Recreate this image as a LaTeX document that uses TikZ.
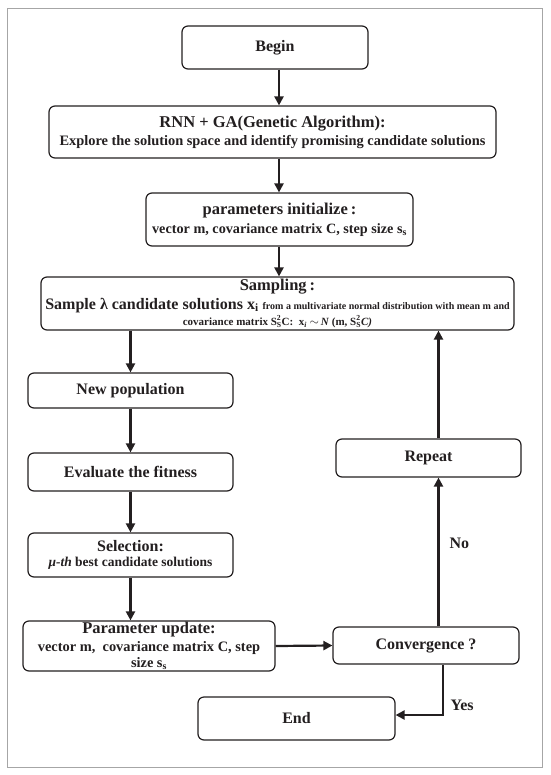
\documentclass[tikz,border=0pt]{standalone}
\usepackage{fontspec}
\setmainfont{Liberation Serif}
\usetikzlibrary{arrows.meta,calc}
\definecolor{ink}{HTML}{231F20}
\newcommand{\fs}[1]{\fontsize{#1}{#1}\selectfont}
\newcommand{\SStwo}{S\rlap{\raisebox{1.5pt}{\textsuperscript{2}}}\textsubscript{S}}
\begin{document}
\begin{tikzpicture}[x=1pt,y=-1pt,
  box/.style={draw=ink,line width=1.2pt,rounded corners=6pt,fill=white,inner sep=1pt,align=center,font=\bfseries,text=ink},
  arr/.style={draw=ink,line width=2.2pt,-{Triangle[length=9pt,width=9pt]}},
  lbl/.style={font=\bfseries\fs{16},text=ink}]
\useasboundingbox (0,0) rectangle (550,775);
\draw[draw=black!35,line width=1pt] (7,9) rectangle (542,767);
\node[box,minimum width=186pt,minimum height=43pt] (begin) at (275,47.5) {\fs{16}Begin};
\node[box,minimum width=447pt,minimum height=52pt] (rnn) at (272.5,132)
  {\fs{16.5}RNN + GA(Genetic Algorithm):\\[3pt]\fs{14.4}Explore the solution space and identify promising candidate solutions};
\node[box,minimum width=267pt,minimum height=53pt] (init) at (279.5,219.5)
  {\fs{16.5}parameters initialize\kern3pt:\\[5pt]\fs{14.2}vector m, covariance matrix C, step size s\textsubscript{s}};
\node[box,minimum width=473pt,minimum height=53pt] (samp) at (277.5,303.5)
  {\fs{16.5}Sampling\kern3pt:\\[3pt]\fs{16}Sample λ candidate solutions x\textsubscript{i} \fs{10}from a multivariate normal distribution with mean m and\\[2pt]
   \fs{11}covariance matrix \SStwo C:\ \ x\textsubscript{\itshape i} {\fs{13}$\sim$}\,\textit{N} (m, \SStwo\textit{C)}};
\node[box,minimum width=205pt,minimum height=35pt] (newpop) at (130.5,390.5) {\fs{16}New population};
\node[box,minimum width=205pt,minimum height=38pt] (eval) at (130.5,472) {\fs{16}Evaluate the fitness};
\node[box,minimum width=205pt,minimum height=44pt] (sel) at (130.5,555)
  {\fs{16}Selection:\\[3pt]\fs{13.5}\textit{μ-th} best candidate solutions};
\node[box,minimum width=252pt,minimum height=50pt] (upd) at (149,646)
  {\fs{16.5}Parameter update:\\[3pt]\fs{14.4}vector m,\ \ covariance matrix C, step\\[2pt]\fs{14.4}size s\textsubscript{s}};
\node[box,minimum width=186pt,minimum height=37pt] (conv) at (426,645.5) {\fs{16}Convergence ?};
\node[box,minimum width=185pt,minimum height=38pt] (rep) at (428.5,458) {\fs{16}Repeat};
\node[box,minimum width=197pt,minimum height=43pt] (end) at (296.5,718.5) {\fs{16}End};
\coordinate (c1) at (279,0);
\coordinate (c2) at (130.5,0);
\coordinate (c3) at (438.5,0);
\coordinate (c4) at (443,0);
\coordinate (turn) at (443,715);
\draw[arr] (begin.south -| c1) -- (rnn.north -| c1);
\draw[arr] (rnn.south -| c1) -- (init.north -| c1);
\draw[arr] (init.south -| c1) -- (samp.north -| c1);
\draw[arr] (samp.south -| c2) -- (newpop.north -| c2);
\draw[arr] (newpop.south -| c2) -- (eval.north -| c2);
\draw[arr] (eval.south -| c2) -- (sel.north -| c2);
\draw[arr] (sel.south -| c2) -- (upd.north -| c2);
\draw[arr] (upd.east) -- (conv.west);
\draw[arr] (conv.north -| c3) -- (rep.south -| c3);
\draw[arr] (rep.north -| c3) -- (samp.south -| c3);
\draw[arr] (conv.south -| c4) -- (turn) -- (end.east |- turn);
\node[lbl,anchor=west] (no) at (446,543) {No};
\node[lbl,anchor=west] (yes) at (447,705) {Yes};
\end{tikzpicture}
\end{document}
